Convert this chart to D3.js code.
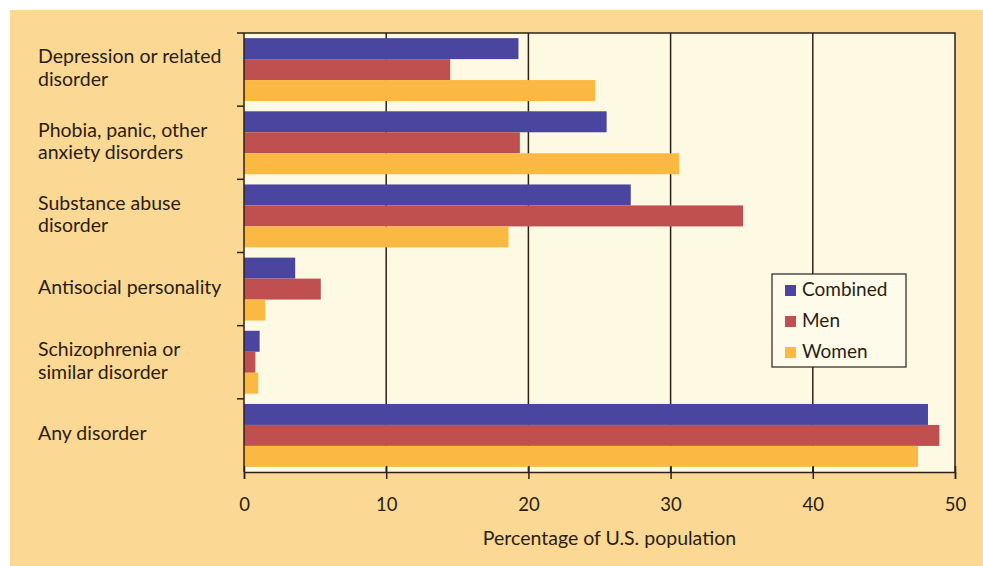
<!DOCTYPE html>
<html>
<head>
<meta charset="utf-8">
<script src="https://cdn.jsdelivr.net/npm/d3@7"></script>
<style>
  html, body { margin: 0; padding: 0; background: #ffffff; }
  svg { display: block; }
  text { font-family: Lato, "Open Sans", sans-serif; fill: #2a1d14; }
</style>
</head>
<body>
<script>
// Prevalence of mental disorders, percent of U.S. population
const categories = [
  ["Depression or related", "disorder"],
  ["Phobia, panic, other", "anxiety disorders"],
  ["Substance abuse", "disorder"],
  ["Antisocial personality"],
  ["Schizophrenia or", "similar disorder"],
  ["Any disorder"]
];
const seriesNames = ["Combined", "Men", "Women"];
const combined = [19.3, 25.5, 27.2, 3.6, 1.1, 48.1];
const men      = [14.5, 19.4, 35.1, 5.4, 0.8, 48.9];
const women    = [24.7, 30.6, 18.6, 1.5, 1.0, 47.4];
const xTicks   = [0, 10, 20, 30, 40, 50];
const xTitle   = "Percentage of U.S. population";

const colors = ["#4a469f", "#c0504f", "#fbb943"];
const seriesValues = [combined, men, women];

const W = 983, H = 566;
const m = { left: 244, right: 28, top: 33, bottom: 94 };
const ink = "#2e2118";

const svg = d3.select("body").append("svg").attr("width", W).attr("height", H);

// paper backdrop
svg.append("rect").attr("x", 10).attr("y", 10).attr("width", W - 10).attr("height", H - 10)
  .attr("fill", "#fbd893");

const x = d3.scaleLinear().domain([0, 50]).range([m.left, W - m.right]);
const y = d3.scaleBand().domain(d3.range(categories.length))
  .range([m.top, H - m.bottom]).paddingInner(0.14).paddingOuter(0.07);
const ySub = d3.scaleBand().domain(d3.range(seriesNames.length)).range([0, y.bandwidth()]);

// plot field
svg.append("rect").attr("x", x(0)).attr("y", m.top)
  .attr("width", x(50) - x(0)).attr("height", H - m.bottom - m.top)
  .attr("fill", "#fef9e2");

// vertical grid lines
svg.append("g").selectAll("line").data(xTicks.slice(1, -1)).join("line")
  .attr("x1", d => x(d)).attr("x2", d => x(d))
  .attr("y1", m.top).attr("y2", H - m.bottom)
  .attr("stroke", ink).attr("stroke-width", 1.5);

// bars
const rows = categories.map((c, i) => seriesValues.map((s, j) => ({ i, j, v: s[i] }))).flat();
svg.append("g").selectAll("rect").data(rows).join("rect")
  .attr("x", x(0))
  .attr("y", d => y(d.i) + ySub(d.j))
  .attr("width", d => x(d.v) - x(0))
  .attr("height", ySub.bandwidth())
  .attr("fill", d => colors[d.j]);

// frame: top and right edges
svg.append("path")
  .attr("d", `M${x(0) - 7},${m.top}H${x(50)}V${H - m.bottom}`)
  .attr("fill", "none").attr("stroke", ink).attr("stroke-width", 1.5);

// x axis
const xAxis = svg.append("g").attr("transform", `translate(0,${H - m.bottom})`)
  .call(d3.axisBottom(x).tickValues(xTicks).tickSize(7).tickPadding(19));
xAxis.select(".domain").attr("stroke", ink).attr("stroke-width", 1.5);
xAxis.selectAll(".tick line").attr("stroke", ink).attr("stroke-width", 1.5).attr("y1", -6);
xAxis.selectAll(".tick text").attr("font-size", 18.5).attr("font-family", "Lato, sans-serif").attr("fill", "#2a1d14");

// y axis line with ticks at band boundaries
const bounds = d3.range(categories.length + 1).map(k => m.top + k * y.step());
svg.append("line").attr("x1", x(0)).attr("x2", x(0))
  .attr("y1", m.top).attr("y2", H - m.bottom)
  .attr("stroke", ink).attr("stroke-width", 1.5);
svg.append("g").selectAll("line").data(bounds.slice(1, -1)).join("line")
  .attr("x1", x(0) - 7).attr("x2", x(0))
  .attr("y1", d => d).attr("y2", d => d)
  .attr("stroke", ink).attr("stroke-width", 1.5);

// category labels
const lineH = 22.5;
const labels = svg.append("g").selectAll("text").data(categories).join("text")
  .attr("font-size", 19.5)
  .attr("x", 38)
  .attr("y", (d, i) => y(i) + y.bandwidth() / 2 - (d.length - 1) * lineH / 2 + 5);
labels.selectAll("tspan").data(d => d).join("tspan")
  .attr("x", 38).attr("dy", (d, k) => k === 0 ? 0 : lineH).text(d => d);

// x axis title
svg.append("text").attr("x", (x(0) + x(50)) / 2 + 10).attr("y", H - 21)
  .attr("text-anchor", "middle").attr("font-size", 19.5).text(xTitle);

// legend
const lg = svg.append("g").attr("transform", "translate(772,274)");
lg.append("rect").attr("width", 134).attr("height", 93)
  .attr("fill", "#fffbeb").attr("stroke", ink).attr("stroke-width", 1.2);
const items = lg.selectAll("g").data(seriesNames).join("g")
  .attr("transform", (d, i) => `translate(13,${11 + i * 31})`);
items.append("rect").attr("width", 11).attr("height", 11).attr("fill", (d, i) => colors[i]);
items.append("text").attr("x", 17).attr("y", 11).attr("font-size", 19).text(d => d);
</script>
</body>
</html>
